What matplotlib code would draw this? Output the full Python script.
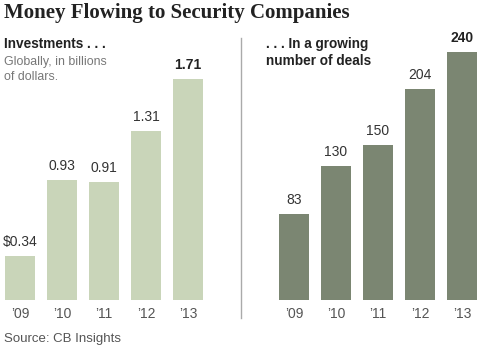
import matplotlib.pyplot as plt
from matplotlib.lines import Line2D

years = ["\u201909", "\u201910", "\u201911", "\u201912", "\u201913"]
investments = [0.34, 0.93, 0.91, 1.31, 1.71]
invest_labels = ["$0.34", "0.93", "0.91", "1.31", "1.71"]
deals = [83, 130, 150, 204, 240]
deal_labels = ["83", "130", "150", "204", "240"]

light_green = "#c9d5b9"
dark_green = "#7b8672"
text_gray = "#333333"
W, H = 484, 348


def px_axes(fig, left, top, width, height):
    # pixel box measured from the top-left corner
    return fig.add_axes([left / W, 1 - (top + height) / H, width / W, height / H])


def draw_bars(ax, values, labels, color, ymax, bold_last):
    x = range(len(values))
    ax.bar(x, values, width=0.72, color=color)
    ax.set_ylim(0, ymax)
    ax.set_xlim(-0.5, 4.5)
    for i, (v, lab) in enumerate(zip(values, labels)):
        bold = bold_last and i == len(values) - 1
        ax.annotate(lab, (i, v), xytext=(0, 5), textcoords="offset points",
                    ha="center", va="bottom", fontsize=10,
                    fontweight="bold" if bold else "normal",
                    color="#222222" if bold else text_gray,
                    family="Liberation Sans", annotation_clip=False)
    ax.set_xticks(list(x))
    ax.set_xticklabels(years, fontsize=10, color="#555555", family="Liberation Sans")
    ax.tick_params(axis="x", length=0, pad=5)
    ax.set_yticks([])
    for s in ax.spines.values():
        s.set_visible(False)
    ax.patch.set_alpha(0)


fig = plt.figure(figsize=(W / 100, H / 100), dpi=100)

ax1 = px_axes(fig, -1, 40, 210, 260)
draw_bars(ax1, investments, invest_labels, light_green, 260 / 129.2, True)

ax2 = px_axes(fig, 273, 40, 210, 260)
draw_bars(ax2, deals, deal_labels, dark_green, 260 / 1.0333, True)

fig.text(4 / W, 1 - 18 / H, "Money Flowing to Security Companies", fontsize=15,
         fontweight="bold", family="Liberation Serif", color="#222222", va="baseline")
fig.text(4 / W, 1 - 48 / H, "Investments . . .", fontsize=9.8, fontweight="bold",
         family="Liberation Sans", color="#222222", va="baseline")
fig.text(4 / W, 1 - 65 / H, "Globally, in billions", fontsize=8.9,
         family="Liberation Sans", color="#777777", va="baseline")
fig.text(4 / W, 1 - 80 / H, "of dollars.", fontsize=8.9,
         family="Liberation Sans", color="#777777", va="baseline")
fig.text(266 / W, 1 - 48 / H, ". . . In a growing", fontsize=9.8, fontweight="bold",
         family="Liberation Sans", color="#222222", va="baseline")
fig.text(266 / W, 1 - 65 / H, "number of deals", fontsize=9.8, fontweight="bold",
         family="Liberation Sans", color="#222222", va="baseline")
fig.text(4 / W, 1 - 342 / H, "Source: CB Insights", fontsize=9.5,
         family="Liberation Sans", color="#555555", va="baseline")

fig.add_artist(Line2D([241 / W, 241 / W], [1 - 38 / H, 1 - 318 / H],
                      transform=fig.transFigure, color="#aaaaaa", lw=1))

fig.savefig("out.png", dpi=100)
